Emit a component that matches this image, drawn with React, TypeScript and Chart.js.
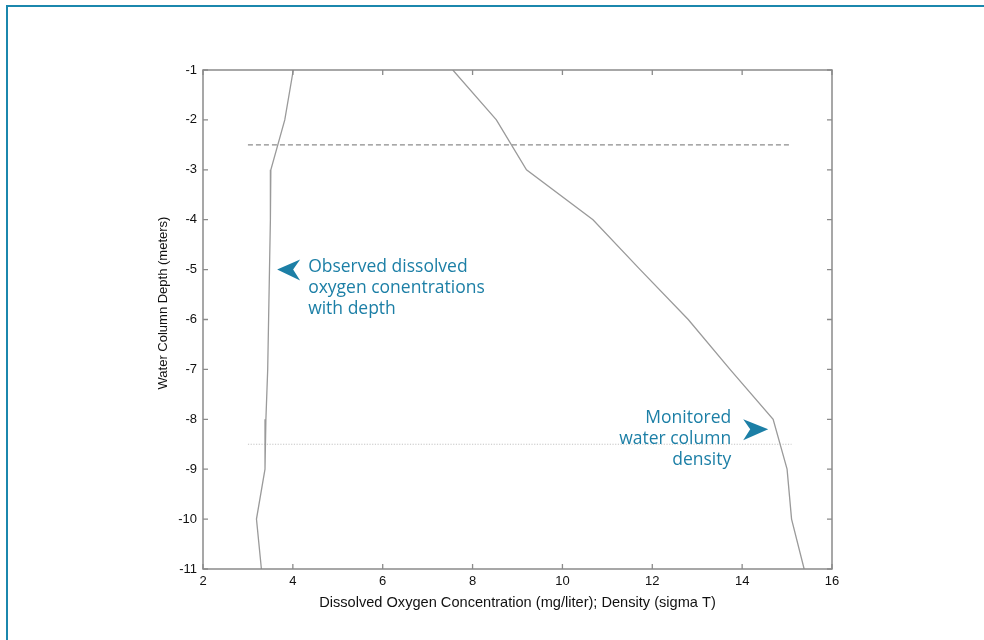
import React, { useEffect, useRef } from "react";
import { Chart, registerables } from "chart.js";

Chart.register(...registerables);

// ---- data ----
const depths = [-1, -2, -3, -4, -5, -6, -7, -8, -9, -10, -11];
const oxygen = [4.01, 3.82, 3.51, 3.5, 3.48, 3.46, 3.44, 3.4, 3.38, 3.19, 3.3];
const density = [7.56, 8.53, 9.2, 10.68, 11.73, 12.8, 13.73, 14.69, 15.0, 15.1, 15.38];
const xTickValues = [2, 4, 6, 8, 10, 12, 14, 16];
const yTickValues = [-1, -2, -3, -4, -5, -6, -7, -8, -9, -10, -11];
const refLineX = [3.0, 15.1];
const dashedDepth = [-2.5, -2.5];
const dottedDepth = [-8.5, -8.5];
const oxygenNote = ["Observed dissolved", "oxygen conentrations", "with depth"];
const densityNote = ["Monitored", "water column", "density"];
const oxygenArrowTip = { x: 3.65, y: -5.0 };
const densityArrowTip = { x: 14.58, y: -8.2 };
const yTitleCenterDepth = -5.67;

const xTitle = "Dissolved Oxygen Concentration (mg/liter); Density (sigma T)";
const yTitle = "Water Column Depth (meters)";

const TEAL = "#1c7fa6";
const AXIS_FONT = "'Liberation Sans', Arial, sans-serif";
const NOTE_FONT = "'Open Sans', 'Noto Sans', sans-serif";

const framePlugin = {
  id: "matlabFrame",
  afterDraw(chart: any) {
    const { ctx, chartArea: a, scales } = chart;
    const xs = scales.x;
    const ys = scales.y;
    ctx.save();
    ctx.strokeStyle = "#8a8a8a";
    ctx.lineWidth = 1.5;
    ctx.strokeRect(a.left, a.top, a.right - a.left, a.bottom - a.top);
    ctx.lineWidth = 1.3;
    ctx.beginPath();
    const tl = 5;
    xTickValues.forEach((v) => {
      const px = xs.getPixelForValue(v);
      ctx.moveTo(px, a.bottom);
      ctx.lineTo(px, a.bottom - tl);
      ctx.moveTo(px, a.top);
      ctx.lineTo(px, a.top + tl);
    });
    yTickValues.forEach((v) => {
      const py = ys.getPixelForValue(v);
      ctx.moveTo(a.left, py);
      ctx.lineTo(a.left + tl, py);
      ctx.moveTo(a.right, py);
      ctx.lineTo(a.right - tl, py);
    });
    ctx.stroke();

    // y axis title
    ctx.save();
    ctx.translate(163, ys.getPixelForValue(yTitleCenterDepth));
    ctx.rotate(-Math.PI / 2);
    ctx.fillStyle = "#111";
    ctx.font = `13px ${AXIS_FONT}`;
    ctx.textAlign = "center";
    ctx.textBaseline = "middle";
    ctx.fillText(yTitle, 0, 0);
    ctx.restore();

    // annotations
    ctx.fillStyle = TEAL;
    const lx = xs.getPixelForValue(oxygenArrowTip.x);
    const ly = ys.getPixelForValue(oxygenArrowTip.y);
    ctx.beginPath();
    ctx.moveTo(lx, ly);
    ctx.lineTo(lx + 23, ly - 10);
    ctx.lineTo(lx + 16, ly);
    ctx.lineTo(lx + 23, ly + 11);
    ctx.closePath();
    ctx.fill();
    const rx = xs.getPixelForValue(densityArrowTip.x);
    const ry = ys.getPixelForValue(densityArrowTip.y);
    ctx.beginPath();
    ctx.moveTo(rx, ry);
    ctx.lineTo(rx - 25, ry - 10);
    ctx.lineTo(rx - 18, ry);
    ctx.lineTo(rx - 25, ry + 11);
    ctx.closePath();
    ctx.fill();

    ctx.font = `17.5px ${NOTE_FONT}`;
    ctx.textBaseline = "middle";
    ctx.textAlign = "left";
    oxygenNote.forEach((t, i) => ctx.fillText(t, lx + 31, ly - 3 + i * 21));
    ctx.textAlign = "right";
    densityNote.forEach((t, i) => ctx.fillText(t, rx - 37, ry - 11 + i * 21));
    ctx.restore();
  },
};

export default function App() {
  const ref = useRef<HTMLCanvasElement | null>(null);

  useEffect(() => {
    if (!ref.current) return;
    const chart = new Chart(ref.current, {
      type: "line",
      data: {
        datasets: [
          {
            label: "Dissolved oxygen",
            data: depths.map((d, i) => ({ x: oxygen[i], y: d })),
            borderColor: "#9a9a9a",
            borderWidth: 1.3,
            pointRadius: 0,
            tension: 0,
          },
          {
            label: "Density",
            data: depths.map((d, i) => ({ x: density[i], y: d })),
            borderColor: "#9a9a9a",
            borderWidth: 1.3,
            pointRadius: 0,
            tension: 0,
          },
          {
            label: "Dashed reference",
            data: refLineX.map((x, i) => ({ x, y: dashedDepth[i] })),
            borderColor: "#8c8c8c",
            borderWidth: 1.2,
            borderDash: [5, 3],
            pointRadius: 0,
          },
          {
            label: "Dotted reference",
            data: refLineX.map((x, i) => ({ x, y: dottedDepth[i] })),
            borderColor: "#c4c4c4",
            borderWidth: 1.2,
            borderDash: [1.2, 1.5],
            pointRadius: 0,
          },
        ],
      },
      options: {
        animation: false,
        responsive: false,
        devicePixelRatio: 1,
        parsing: false as any,
        layout: { padding: { top: 70, right: 152, left: 0, bottom: 0 } },
        plugins: {
          legend: { display: false },
          tooltip: { enabled: false },
        },
        scales: {
          x: {
            type: "linear",
            position: "bottom",
            min: 2,
            max: 16,
            ticks: {
              stepSize: 2,
              padding: 5,
              color: "#111",
              font: { family: AXIS_FONT, size: 13 },
            },
            grid: { display: false, drawTicks: false },
            border: { display: false },
            title: {
              display: true,
              text: xTitle,
              color: "#111",
              font: { family: AXIS_FONT, size: 14.6 },
              padding: { top: 0, bottom: 28 },
            },
            afterFit: (s: any) => {
              s.height = 71;
            },
          },
          y: {
            type: "linear",
            min: -11,
            max: -1,
            ticks: {
              stepSize: 1,
              padding: 6,
              color: "#111",
              font: { family: AXIS_FONT, size: 13 },
            },
            grid: { display: false, drawTicks: false },
            border: { display: false },
            title: { display: false },
            afterFit: (s: any) => {
              s.width = 203;
            },
          },
        },
      },
      plugins: [framePlugin],
    });
    return () => chart.destroy();
  }, []);

  return (
    <div
      style={{
        position: "absolute",
        left: 0,
        top: 0,
        width: 984,
        height: 640,
        overflow: "hidden",
        background: "#fff",
      }}
    >
      <div
        style={{
          position: "absolute",
          left: 6,
          top: 5,
          width: 1200,
          height: 1000,
          borderTop: "2px solid #1b87ad",
          borderLeft: "2px solid #1b87ad",
        }}
      />
      <canvas
        ref={ref}
        width={984}
        height={640}
        style={{ position: "absolute", left: 0, top: 0, width: 984, height: 640 }}
      />
    </div>
  );
}
